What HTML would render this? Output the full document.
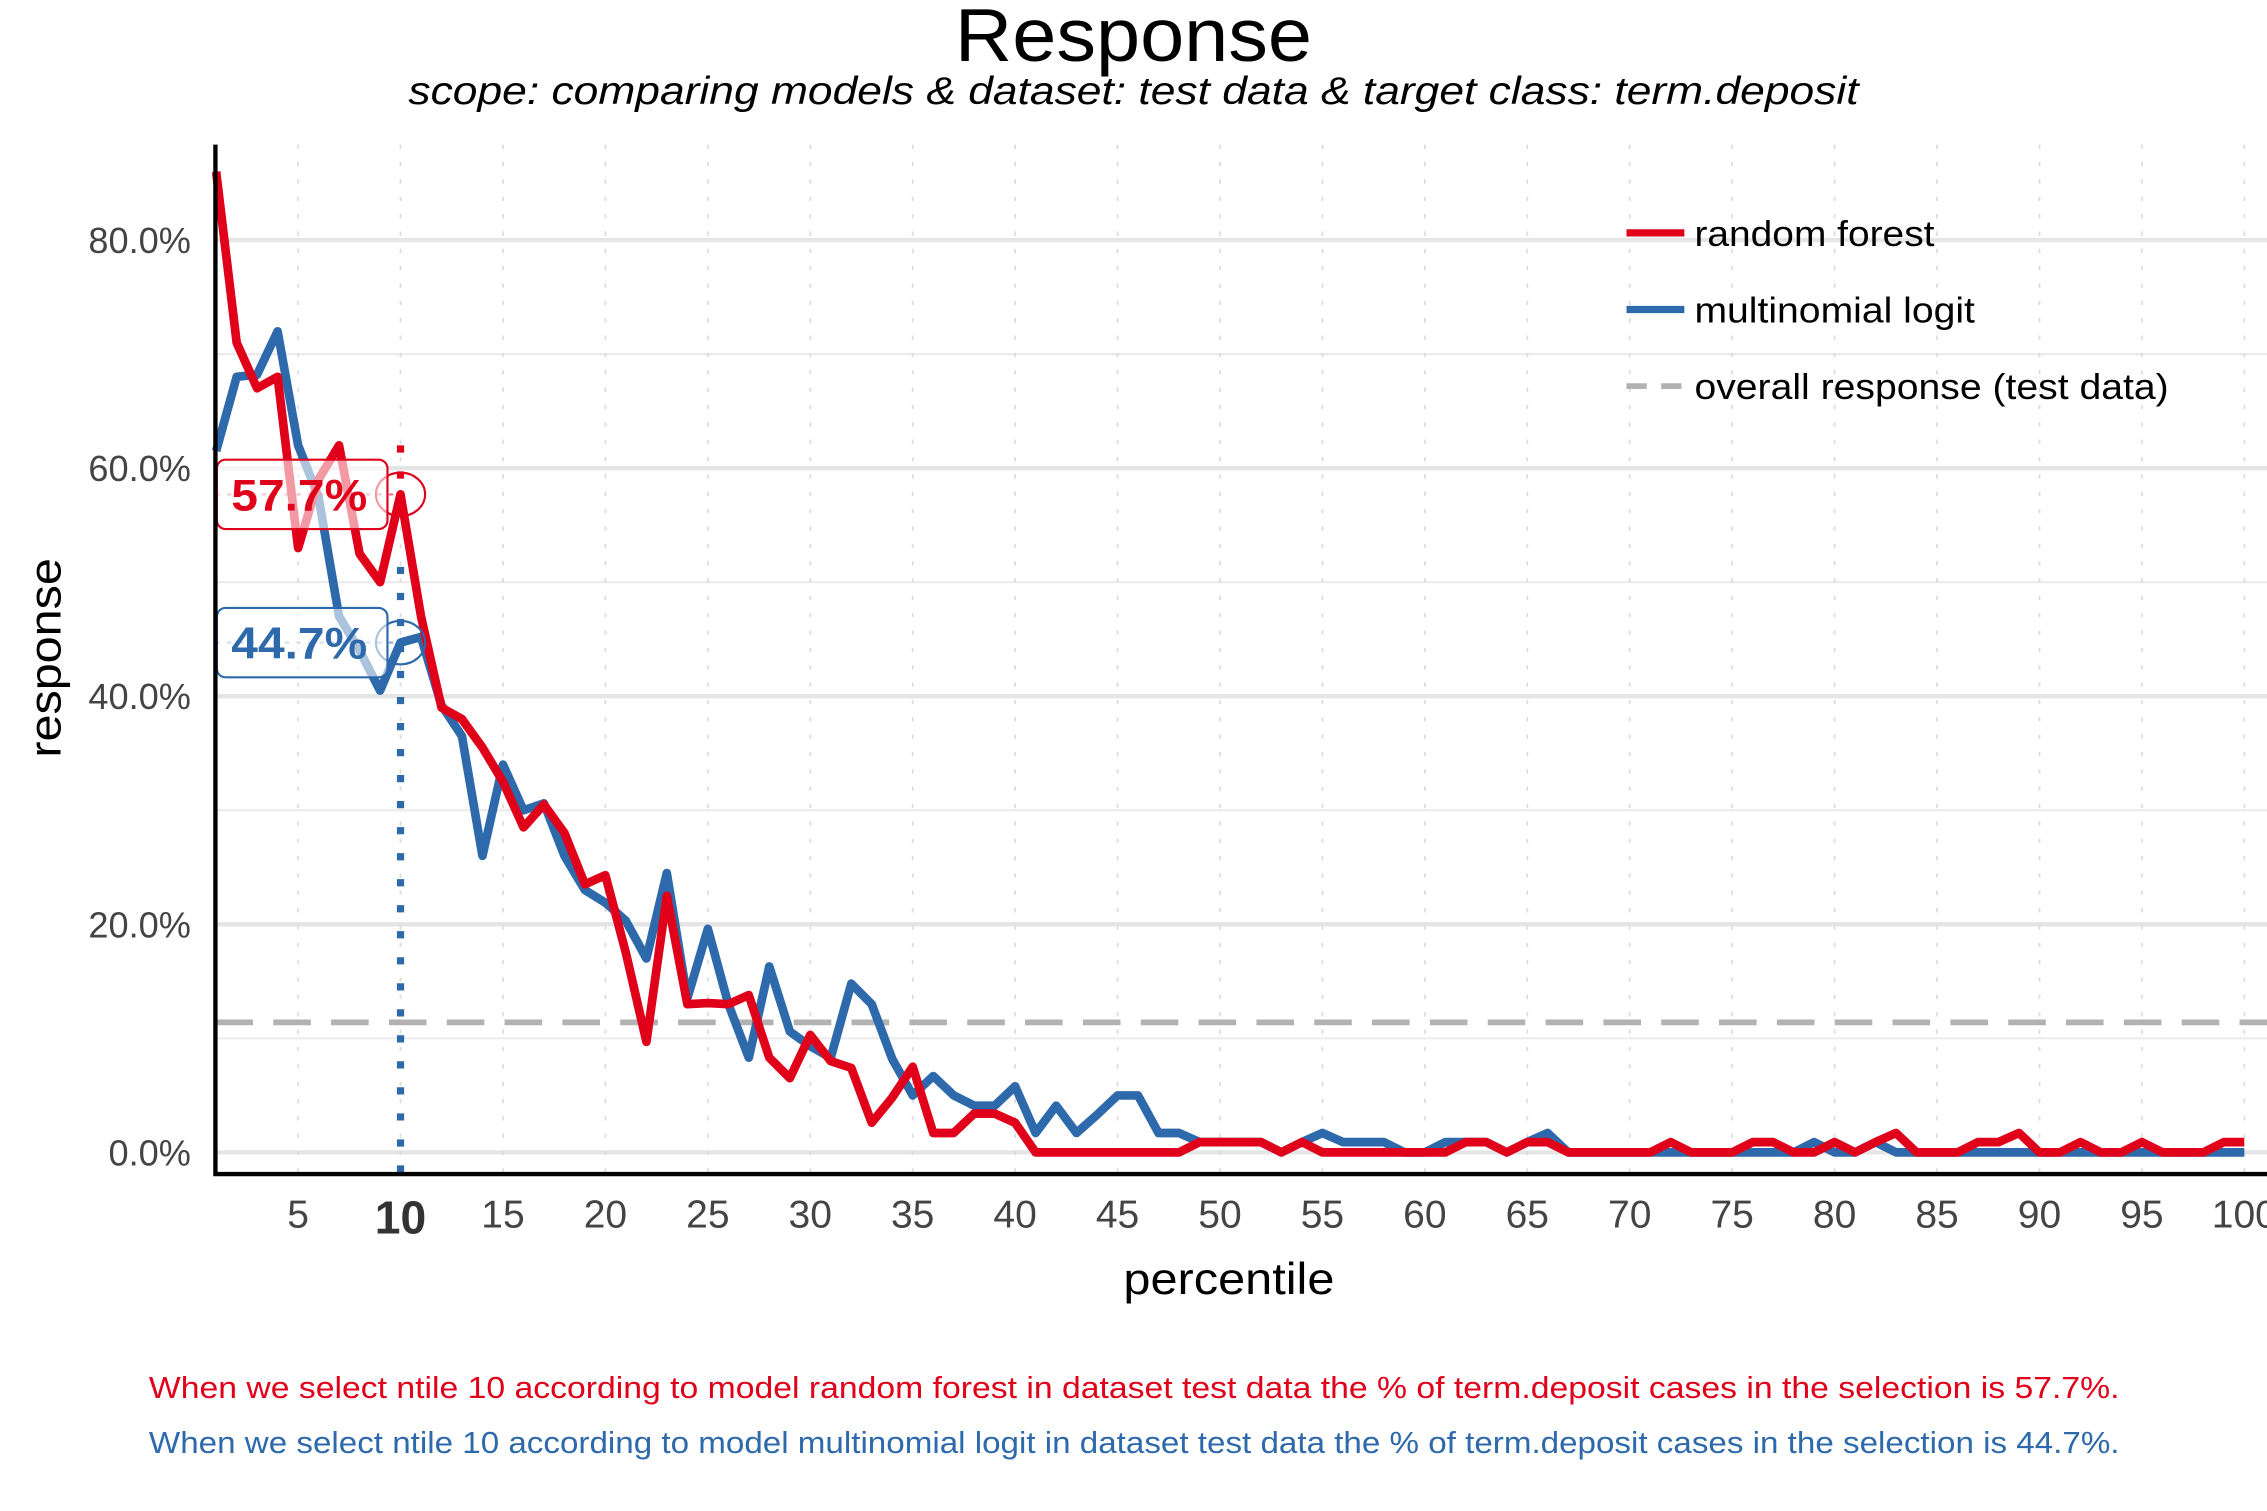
<!DOCTYPE html>
<html><head><meta charset="utf-8"><style>
html,body{margin:0;padding:0;background:#fff}
svg{display:block;font-family:"Liberation Sans",Arial,sans-serif}
</style></head><body>
<svg id="chart" width="2267" height="1511" viewBox="0 0 1568 1045" xmlns="http://www.w3.org/2000/svg">
<rect width="1568" height="1045" fill="#fff"/>
<text x="784" y="42" text-anchor="middle" font-size="52" textLength="247" lengthAdjust="spacingAndGlyphs">Response</text>
<text x="784" y="72" text-anchor="middle" font-size="27" font-style="italic" textLength="1003" lengthAdjust="spacingAndGlyphs">scope: comparing models &amp; dataset: test data &amp; target class: term.deposit</text>
<g id="grid"></g>
<g id="marks"></g>
<g id="axes"></g>
<g>
 <line x1="1125" y1="161" x2="1165" y2="161" stroke="#E0001A" stroke-width="5"/>
 <text x="1172" y="170" font-size="25" textLength="166" lengthAdjust="spacingAndGlyphs">random forest</text>
 <line x1="1125" y1="214" x2="1165" y2="214" stroke="#2E6AAB" stroke-width="5"/>
 <text x="1172" y="223" font-size="25" textLength="194" lengthAdjust="spacingAndGlyphs">multinomial logit</text>
 <line x1="1125" y1="267" x2="1165" y2="267" stroke="#B2B2B2" stroke-width="4" stroke-dasharray="14,10"/>
 <text x="1172" y="276" font-size="25" textLength="328" lengthAdjust="spacingAndGlyphs">overall response (test data)</text>
</g>
<text x="850" y="895" text-anchor="middle" font-size="31" textLength="146" lengthAdjust="spacingAndGlyphs">percentile</text>
<text transform="translate(42,455) rotate(-90)" text-anchor="middle" font-size="31" textLength="138" lengthAdjust="spacingAndGlyphs">response</text>
<text x="103" y="967" font-size="21" fill="#E0001A" textLength="1363" lengthAdjust="spacingAndGlyphs">When we select ntile 10 according to model random forest in dataset test data the % of term.deposit cases in the selection is 57.7%.</text>
<text x="103" y="1005" font-size="21" fill="#2E6AAB" textLength="1363" lengthAdjust="spacingAndGlyphs">When we select ntile 10 according to model multinomial logit in dataset test data the % of term.deposit cases in the selection is 44.7%.</text>
</svg>
<script>
const percentiles = Array.from({length:100},(_,i)=>i+1);
const rfValues = [86,71,67,68,53,59,62,52.5,50,57.7,47,39,38,35.5,32.5,28.5,30.5,28,23.5,24.3,17.5,9.7,22.5,13,13.1,13,13.8,8.3,6.5,10.3,8,7.4,2.6,4.8,7.5,1.7,1.7,3.4,3.4,2.6,0,0,0,0,0,0,0,0,0.9,0.9,0.9,0.9,0,0.9,0,0,0,0,0,0,0,0.9,0.9,0,0.9,0.9,0,0,0,0,0,0.9,0,0,0,0.9,0.9,0,0,0.9,0,0.9,1.7,0,0,0,0.9,0.9,1.7,0,0,0.9,0,0,0.9,0,0,0,0.9,0.9];
const mlValues = [61.5,68,68.2,72,62,57.5,47,44,40.5,44.7,45.2,39.2,36.5,26,34,30,30.6,26,23,21.9,20.3,17,24.5,13.5,19.6,13,8.3,16.3,10.6,9.3,8.3,14.8,13,8.2,5,6.7,5,4.1,4.1,5.8,1.7,4.1,1.7,3.3,5,5,1.7,1.7,0.9,0.9,0.9,0.9,0,0.9,1.7,0.9,0.9,0.9,0,0,0.9,0.9,0.9,0,0.9,1.7,0,0,0,0,0,0,0,0,0,0,0,0,0.9,0,0,0.9,0,0,0,0,0,0,0,0,0,0,0,0,0,0,0,0,0,0];
const overallResponse = [11.4];
const yTicks = [0,20,40,60,80];
const yMinor = [10,30,50,70];
const xTicks = [5,10,15,20,25,30,35,40,45,50,55,60,65,70,75,80,85,90,95,100];
const selectedNtile = [10];

const NS="http://www.w3.org/2000/svg";
const X0=149.5, XS=14.17, Y0=797, YS=7.8875;
const sx=v=>X0+(v-1)*XS, sy=v=>Y0-v*YS;
function mk(parent,tag,attrs){const e=document.createElementNS(NS,tag);for(const k in attrs)e.setAttribute(k,attrs[k]);document.getElementById(parent).appendChild(e);return e;}

yMinor.forEach(v=>{const e=mk('grid','line',{x1:149,x2:1568,y1:sy(v),y2:sy(v),stroke:'#ebebeb','stroke-width':1.5});

});
yTicks.forEach(v=>{const e=mk('grid','line',{x1:149,x2:1568,y1:sy(v),y2:sy(v),stroke:'#e5e5e5','stroke-width':3});


const t=mk('axes','text',{x:132,y:sy(v)+9,'text-anchor':'end','font-size':25,fill:'#444'});t.textContent=v.toFixed(1)+'%';

});
xTicks.forEach(v=>{const e=mk('grid','line',{x1:sx(v),x2:sx(v),y1:100,y2:812,stroke:'#dcdcdc','stroke-width':1.2,'stroke-dasharray':'3,9'});


const bold=v===selectedNtile[0];
const t=mk('axes','text',{x:sx(v),y:bold?853:849,'text-anchor':'middle','font-size':bold?32:27,'font-weight':bold?'bold':'normal',fill:bold?'#333':'#444'});t.textContent=v;

});
const ax=mk('axes','path',{d:'M149,100 V812 H1568',fill:'none',stroke:'#000','stroke-width':3});



const ov=mk('marks','line',{x1:149,x2:1568,y1:sy(overallResponse[0]),y2:sy(overallResponse[0]),stroke:'#B2B2B2','stroke-width':4,'stroke-dasharray':'26,14'});



function series(vals,color,name){const d=vals.map((v,i)=>(i?'L':'M')+sx(percentiles[i]).toFixed(1)+','+sy(v).toFixed(1)).join(' ');
const p=mk('marks','path',{d:d,fill:'none',stroke:color,'stroke-width':6,'stroke-linejoin':'round'});

}
series(mlValues,'#2E6AAB','line-multinomial-logit');
series(rfValues,'#E0001A','line-random-forest');

const n=selectedNtile[0];
function annot(vals,color,name,ytop){const v=vals[n-1];const cx=sx(n),cy=sy(v);
const vl=mk('marks','line',{x1:cx,x2:cx,y1:ytop,y2:name==='rf'?cy+20:812,stroke:color,'stroke-width':5,'stroke-dasharray':'5,13'});


const hl=mk('marks','line',{x1:149,x2:cx,y1:cy,y2:cy,stroke:color,'stroke-width':1.5,'stroke-dasharray':'3,5',opacity:0.5});


const c=mk('marks','ellipse',{cx:cx,cy:cy,rx:17,ry:15,fill:'none',stroke:color,'stroke-width':1.5});


const r=mk('marks','rect',{x:150,y:cy-24,width:118,height:48,rx:6,fill:'rgba(255,255,255,0.6)',stroke:color,'stroke-width':1.5});


const t=mk('marks','text',{x:207,y:cy+11,'text-anchor':'middle','font-size':31,'font-weight':'bold',fill:color,textLength:94,lengthAdjust:'spacingAndGlyphs'});t.textContent=v.toFixed(1)+'%';

}
annot(rfValues,'#E0001A','rf',308);
annot(mlValues,'#2E6AAB','ml',392);
</script>
</body></html>
